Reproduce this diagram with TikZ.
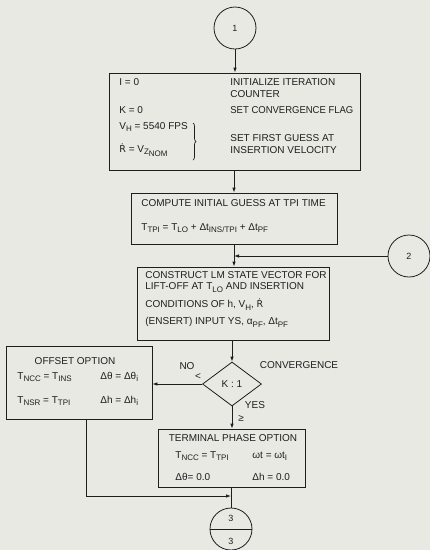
\documentclass[tikz,border=0pt]{standalone}
\usepackage{fontspec}
\setmainfont{Liberation Sans}
\newfontfamily\narrowfont{Liberation Sans}[FakeStretch=0.95]
\newfontfamily\dvfont{DejaVu Sans}[Scale=0.95]
\usetikzlibrary{shapes.geometric,arrows.meta,decorations.pathreplacing}
\definecolor{bg}{RGB}{233,233,228}
\definecolor{ink}{RGB}{30,30,30}
\newcommand\sbs[1]{\raisebox{-0.5ex}{\fontsize{8}{8}\selectfont #1}}
\newcommand\Rdot{{\dvfont Ṙ}}
\begin{document}
\begin{tikzpicture}[x=1pt,y=-1pt,
  font=\fontsize{10}{12}\selectfont, color=ink, line width=0.8pt,
  box/.style={draw, rectangle, inner sep=0pt},
  conn/.style={draw, circle, minimum size=42pt, inner sep=0pt, font=\fontsize{9}{10}\selectfont},
  txt/.style={anchor=base west, inner sep=0pt},
  ctxt/.style={anchor=base, inner sep=0pt},
  lbl/.style={inner sep=0pt},
  arr/.style={-{Latex[length=5pt,width=3.5pt]}}]
\fill[bg] (0,0) rectangle (430,550);
\useasboundingbox (0,0) rectangle (430,550);

% nodes
\node[conn] (c1) at (235,28) {1};
\node[box, minimum width=251pt, minimum height=97pt] (b1) at (234.5,121.5) {};
\node[box, minimum width=206pt, minimum height=51pt] (b2) at (234,218.5) {};
\node[conn] (c2) at (409,256) {2};
\node[box, minimum width=192pt, minimum height=73pt] (b3) at (233,303.5) {};
\node[draw, diamond, minimum width=59pt, minimum height=44pt, inner sep=0pt] (d) at (232,384) {K : 1};
\node[box, minimum width=146pt, minimum height=73pt] (off) at (79,382.5) {};
\node[box, minimum width=147pt, minimum height=58pt] (t) at (231.5,458) {};
\node[conn] (c3) at (231,529) {};
\draw (c3.west) -- (c3.east);
\node[lbl, font=\fontsize{9}{10}\selectfont] (c3a) at ([yshift=11pt]c3.center) {3};
\node[lbl, font=\fontsize{9}{10}\selectfont] (c3b) at ([yshift=-12pt]c3.center) {3};

% box 1 texts
\node[txt] (t11) at (119,85.5) {I = 0};
\node[txt] (t12) at (230,85.5) {INITIALIZE ITERATION};
\node[txt] (t13) at (230,97.5) {COUNTER};
\node[txt] (t14) at (119,113.5) {K = 0};
\node[txt] (t15) at (230,113.5) {\narrowfont SET CONVERGENCE FLAG};
\node[txt] (t16) at (119,129) {V\sbs{H} = 5540 FPS};
\node[txt] (t17) at (119,152) {\Rdot{} = V\sbs{Z\sbs{NOM}}};
\node[txt] (t18) at (230,141.5) {SET FIRST GUESS AT};
\node[txt] (t19) at (230,153.5) {INSERTION VELOCITY};
\draw[decorate, decoration={brace, amplitude=3pt}, line width=0.7pt] (193,123) -- (193,160);

% box 2 texts
\node[txt] (t21) at (141,206.5) {COMPUTE INITIAL GUESS AT TPI TIME};
\node[txt] (t22) at (141,230) {T\sbs{TPI} = T\sbs{LO} + Δt\sbs{INS/TPI} + Δt\sbs{PF}};

% box 3 texts
\node[txt] (t31) at (145,278.5) {CONSTRUCT LM STATE VECTOR FOR};
\node[txt] (t32) at (145,289.5) {LIFT-OFF AT T\sbs{LO} AND INSERTION};
\node[txt] (t33) at (145,307.5) {CONDITIONS OF h, V\sbs{H}, \Rdot};
\node[txt] (t34) at (145,324.5) {(ENSERT) INPUT YS, α\sbs{PF}, Δt\sbs{PF}};

% offset texts
\node[ctxt] (t41) at (75,364.5) {OFFSET OPTION};
\node[txt] (t42) at (17,379) {T\sbs{NCC} = T\sbs{INS}};
\node[txt] (t43) at (100,379) {Δθ = Δθ\sbs{i}};
\node[txt] (t44) at (17,403) {T\sbs{NSR} = T\sbs{TPI}};
\node[txt] (t45) at (100,403) {Δh = Δh\sbs{i}};

% terminal texts
\node[ctxt] (t51) at (233,441.5) {TERMINAL PHASE OPTION};
\node[txt] (t52) at (175,458) {T\sbs{NCC} = T\sbs{TPI}};
\node[txt] (t53) at (252,458) {ωt = ωt\sbs{I}};
\node[txt] (t54) at (175,480.5) {Δθ= 0.0};
\node[txt] (t55) at (252,480.5) {Δh = 0.0};

% decision labels
\node[lbl] (no) at (187,366) {NO};
\node[lbl] (lt) at (198,377) {<};
\node[lbl] (cv) at (299,365) {CONVERGENCE};
\node[lbl] (yes) at (255,405) {YES};
\node[lbl] (ge) at (241,418) {≥};

% connectors
\draw[arr] (c1.south) -- (c1.south |- b1.north);
\draw[arr] (b2.north |- b1.south) -- (b2.north);
\draw[arr] (b2.south) -- (b2.south |- b3.north);
\coordinate (j2) at (b2.south |- c2.west);
\draw[arr] (c2.west) -- (j2);
\draw[arr] (d.north |- b3.south) -- (d.north);
\draw[arr] (d.west) -- (d.west -| off.east);
\draw[arr] (d.south) -- (d.south |- t.north);
\draw (c3.north |- t.south) -- (c3.north);
\coordinate (ob) at ([xshift=7pt]off.south);
\coordinate (j3) at (231,496);
\draw[arr] (ob) |- (j3);
\end{tikzpicture}
\end{document}
